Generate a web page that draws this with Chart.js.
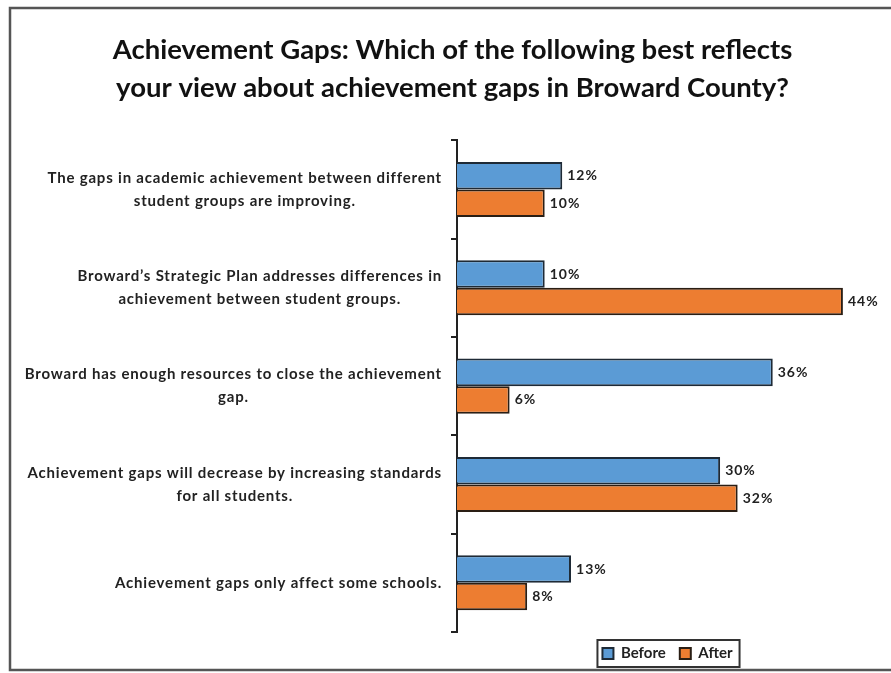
<!DOCTYPE html>
<html>
<head>
<meta charset="utf-8">
<script src="https://cdn.jsdelivr.net/npm/chart.js@4/dist/chart.umd.min.js"></script>
<style>
  html, body { margin: 0; padding: 0; background: #fff; }
  #wrap { width: 891px; height: 673px; }
</style>
</head>
<body>
<div id="wrap"><canvas id="gapsChart" width="891" height="673"></canvas></div>
<script>
// category labels (each label split into its display lines)
const categories = [
    ['The gaps in academic achievement between different', 'student groups are improving.'],
    ['Broward\u2019s Strategic Plan addresses differences in', 'achievement between student groups.'],
    ['Broward has enough resources to close the achievement', 'gap.'],
    ['Achievement gaps will decrease by increasing standards', 'for all students.'],
    ['Achievement gaps only affect some schools.']
];
const beforeValues = [12, 10, 36, 30, 13];
const afterValues = [10, 44, 6, 32, 8];

const titleLines = [
    'Achievement Gaps: Which of the following best reflects',
    'your view about achievement gaps in Broward County?'
];

const FONT = 'Lato, "Open Sans", sans-serif';
const INK = '#222';
const PAD_LEFT = 27;
const AXIS_X = 457;

// frame around the whole chart (open on the right, like the source)
const framePlugin = {
    id: 'frame',
    beforeDraw(chart) {
        const c = chart.ctx;
        c.save();
        c.fillStyle = '#fff';
        c.fillRect(0, 0, chart.width, chart.height);
        c.strokeStyle = '#555';
        c.lineWidth = 2.5;
        c.beginPath();
        c.moveTo(chart.width, 8);
        c.lineTo(10, 8);
        c.lineTo(10, 670);
        c.lineTo(chart.width, 670);
        c.stroke();
        c.restore();
    }
};

// category labels: lines centred on each other, block right aligned to the axis
const catLabelPlugin = {
    id: 'catLabels',
    afterDraw(chart) {
        const c = chart.ctx;
        const y = chart.scales.y;
        const right = y.right - 15;
        const lh = 23;
        c.save();
        c.font = 'bold 15px ' + FONT;
        c.letterSpacing = '0.8px';
        c.fillStyle = INK;
        c.textAlign = 'center';
        c.textBaseline = 'middle';
        categories.forEach((lines, i) => {
            const w = Math.max(...lines.map(l => c.measureText(l).width));
            const cx = right - w / 2;
            const cy = y.getPixelForValue(i);
            const top = cy - (lines.length - 1) * lh / 2;
            lines.forEach((l, k) => c.fillText(l, cx, top + k * lh));
        });
        c.restore();
    }
};

// percent labels at the end of each bar
const valueLabelPlugin = {
    id: 'valueLabels',
    afterDatasetsDraw(chart) {
        const c = chart.ctx;
        c.save();
        c.font = 'bold 14px ' + FONT;
        c.letterSpacing = '1px';
        c.fillStyle = INK;
        c.textAlign = 'left';
        c.textBaseline = 'middle';
        chart.data.datasets.forEach((ds, di) => {
            chart.getDatasetMeta(di).data.forEach((bar, i) => {
                c.fillText(ds.data[i] + '%', bar.x + 5, bar.y);
            });
        });
        c.restore();
    }
};

// box drawn around the legend items
const legendBoxPlugin = {
    id: 'legendBox',
    afterDraw(chart) {
        const hb = chart.legend && chart.legend.legendHitBoxes;
        if (!hb || !hb.length) return;
        const left = Math.min(...hb.map(h => h.left)) - 5;
        const right = Math.max(...hb.map(h => h.left + h.width)) + 7;
        const top = Math.min(...hb.map(h => h.top)) - 6;
        const bottom = Math.max(...hb.map(h => h.top + h.height)) + 6;
        const c = chart.ctx;
        c.save();
        c.strokeStyle = '#333';
        c.lineWidth = 2;
        c.strokeRect(left, top, right - left, bottom - top);
        c.restore();
    }
};

const ctx = document.getElementById('gapsChart').getContext('2d');
const gapsChart = new Chart(ctx, {
    type: 'bar',
    data: {
        labels: categories,
        datasets: [{
            label: 'Before',
            data: beforeValues,
            backgroundColor: '#5B9BD5',
            borderColor: '#1e2a36',
            borderWidth: 2,
            borderSkipped: 'start'
        }, {
            label: 'After',
            data: afterValues,
            backgroundColor: '#ED7D31',
            borderColor: '#2a1e14',
            borderWidth: 2,
            borderSkipped: 'start'
        }]
    },
    options: {
        indexAxis: 'y',
        responsive: false,
        animation: false,
        categoryPercentage: 0.56,
        barPercentage: 1.0,
        layout: {
            padding: { left: PAD_LEFT, right: 13, top: 0, bottom: 2 }
        },
        scales: {
            x: {
                display: false,
                min: 0,
                max: 48
            },
            y: {
                afterFit(scale) { scale.width = AXIS_X - PAD_LEFT; },
                ticks: { display: false },
                grid: {
                    offset: true,
                    drawOnChartArea: false,
                    drawTicks: true,
                    tickLength: 6,
                    color: INK,
                    lineWidth: 2
                },
                border: { display: true, color: INK, width: 2 }
            }
        },
        plugins: {
            title: {
                display: true,
                text: titleLines,
                color: '#111',
                font: { family: FONT, size: 27.5, weight: 'bold', lineHeight: 1.35 },
                padding: { top: 32, bottom: 34 }
            },
            legend: {
                position: 'bottom',
                fullSize: false,
                labels: {
                    color: INK,
                    font: { family: FONT, size: 15, weight: 'bold' },
                    boxWidth: 11,
                    boxHeight: 11,
                    padding: 14
                }
            },
            tooltip: { enabled: false }
        }
    },
    plugins: [framePlugin, catLabelPlugin, valueLabelPlugin, legendBoxPlugin]
});
</script>
</body>
</html>
